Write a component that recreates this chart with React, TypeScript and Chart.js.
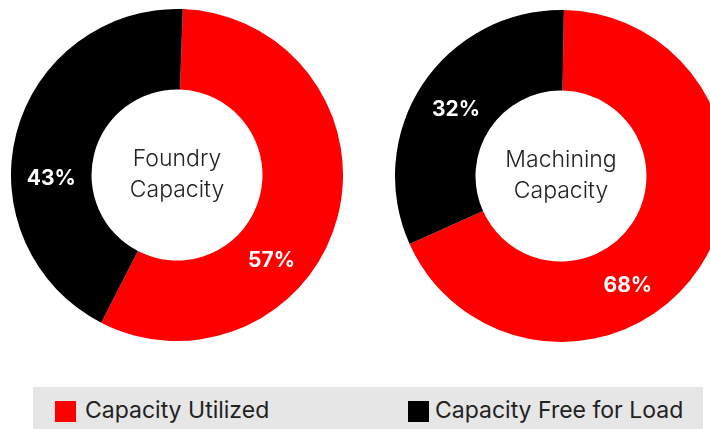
import React, { useEffect, useRef } from "react";
import { Chart, registerables } from "chart.js";

Chart.register(...registerables);

const seriesLabels = ["Capacity Utilized", "Capacity Free for Load"];
const foundryValues = [57, 43];
const machiningValues = [68, 32];
const foundryTitle = ["Foundry", "Capacity"];
const machiningTitle = ["Machining", "Capacity"];
const colors = ["#ff0000", "#000000"];

const FONT = "Inter, 'Noto Sans', Arial, sans-serif";

type DonutProps = {
  values: number[];
  title: string[];
  labelFrac: number[];
  size: number;
  left: number;
  top: number;
  rotation: number;
};

const donutLabels = {
  id: "donutLabels",
  afterDraw(chart: any, _args: any, opts: any) {
    const ctx = chart.ctx;
    const meta = chart.getDatasetMeta(0);
    const data = chart.data.datasets[0].data as number[];
    const fracs: number[] = opts.fracs || [];
    ctx.save();
    meta.data.forEach((arc: any, i: number) => {
      const p = arc.getProps(["x", "y", "startAngle", "endAngle", "innerRadius", "outerRadius"], true);
      const f = fracs[i] ?? 0.5;
      const a = p.startAngle + (p.endAngle - p.startAngle) * f;
      const r = (p.innerRadius + p.outerRadius) / 2;
      ctx.fillStyle = "#ffffff";
      ctx.font = `700 21px ${FONT}`;
      ctx.textAlign = "center";
      ctx.textBaseline = "middle";
      ctx.fillText(`${data[i]}%`, p.x + Math.cos(a) * r, p.y + Math.sin(a) * r + 3);
    });
    const title: string[] = opts.title || [];
    if (meta.data.length) {
      const c = meta.data[0];
      ctx.fillStyle = "#222222";
      ctx.font = `300 23px ${FONT}`;
      ctx.textAlign = "center";
      ctx.textBaseline = "middle";
      title.forEach((t, k) => {
        ctx.fillText(t, c.x, c.y - 16 + k * 31);
      });
    }
    ctx.restore();
  },
};

function Donut({ values, title, labelFrac, size, left, top, rotation }: DonutProps) {
  const ref = useRef<HTMLCanvasElement>(null);
  useEffect(() => {
    if (!ref.current) return;
    const chart = new Chart(ref.current, {
      type: "doughnut",
      data: {
        labels: seriesLabels,
        datasets: [
          {
            data: values,
            backgroundColor: colors,
            borderWidth: 0,
          },
        ],
      },
      options: {
        responsive: false,
        animation: false,
        cutout: "51.5%",
        rotation,
        layout: { padding: 0 },
        plugins: {
          legend: { display: false },
          tooltip: { enabled: false },
          donutLabels: { fracs: labelFrac, title },
        } as any,
      },
      plugins: [donutLabels],
    });
    return () => chart.destroy();
  }, []);
  return (
    <canvas
      ref={ref}
      width={size}
      height={size}
      style={{ position: "absolute", left, top, width: size, height: size }}
    />
  );
}

export default function App() {
  return (
    <div
      style={{
        position: "absolute",
        left: 0,
        top: 0,
        width: 710,
        height: 429,
        overflow: "hidden",
        background: "#ffffff",
      }}
    >
      <Donut values={foundryValues} title={foundryTitle} labelFrac={[0.63, 0.405]} size={332} left={11} top={9} rotation={2} />
      <Donut values={machiningValues} title={machiningTitle} labelFrac={[0.6, 0.5]} size={332} left={395} top={10} rotation={1} />
      <div
        style={{
          position: "absolute",
          left: 33,
          top: 387,
          width: 670,
          height: 42,
          background: "#e6e6e6",
          fontFamily: FONT,
          fontSize: 23,
          color: "#222222",
        }}
      >
        <div style={{ position: "absolute", left: 22, top: 14, width: 21, height: 21, background: colors[0] }} />
        <div style={{ position: "absolute", left: 52, top: 8, lineHeight: "30px", whiteSpace: "nowrap" }}>
          {seriesLabels[0]}
        </div>
        <div style={{ position: "absolute", left: 375, top: 14, width: 21, height: 21, background: colors[1] }} />
        <div style={{ position: "absolute", left: 402, top: 8, lineHeight: "30px", whiteSpace: "nowrap" }}>
          {seriesLabels[1]}
        </div>
      </div>
    </div>
  );
}
